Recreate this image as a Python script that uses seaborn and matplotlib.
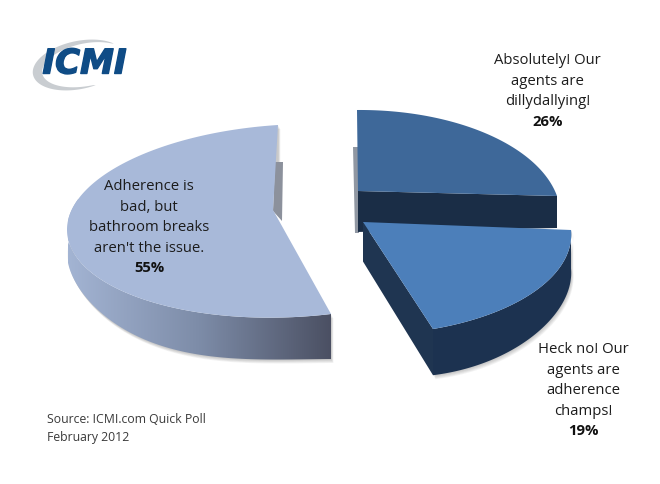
import numpy as np
import matplotlib
matplotlib.use("Agg")
import matplotlib.pyplot as plt
import matplotlib.patheffects as pe
import seaborn as sns
from matplotlib.patches import Polygon
from matplotlib.colors import LinearSegmentedColormap

# Poll results, clockwise from twelve o'clock
answers = ["Absolutely! Our\nagents are\ndillydallying!",
           "Heck no! Our\nagents are\nadherence\nchamps!",
           "Adherence is\nbad, but\nbathroom breaks\naren't the issue."]
shares = [26, 19, 55]
source_lines = ["Source: ICMI.com Quick Poll", "February 2012"]

top_colors = sns.color_palette(["#3e6899", "#4c7fba", "#a8b9d9"])

sns.set_theme(style="white")
plt.rcParams["font.family"] = ["Open Sans", "DejaVu Sans"]

fig = plt.figure(figsize=(6.6, 4.85), dpi=100)
ax = fig.add_axes([0, 0, 1, 1])
ax.set_xlim(0, 660)
ax.set_ylim(485, 0)
ax.axis("off")


def fit_plane(circle_pts, screen_pts):
    """Homography taking the unit-circle plane of the pie to the screen."""
    rows = []
    for (u, v), (x, y) in zip(circle_pts, screen_pts):
        rows.append([u, v, 1, 0, 0, 0, -u * x, -v * x, -x])
        rows.append([0, 0, 0, u, v, 1, -u * y, -v * y, -y])
    return np.linalg.svd(np.array(rows))[2][-1].reshape(3, 3)


def project(H, deg):
    t = np.radians(deg)
    p = H @ np.vstack([np.cos(t), np.sin(t), np.ones_like(t)])
    return p[:2] / p[2]


def unit(deg):
    return (np.cos(np.radians(deg)), np.sin(np.radians(deg)))


edges = 90 - np.cumsum([0] + shares) * 3.6
spans = list(zip(edges[:-1], edges[1:]))

# Each slice is pulled apart and seen under its own perspective
hubs = [(358, 192), (363, 223), (270, 225)]
tips = [(358, 192), (363, 223), (273, 211)]
start_pts = [(357, 111), (571, 231), (331, 315)]
end_pts = [(557, 197), (433, 330), (278, 126)]
mid_pts = [(480, 132), (538, 290), (69, 243.5)]
depth_x = [[357, 557], [363, 435, 540, 571], [68, 100, 160, 331]]
depth_y = [[41, 32], [40, 45, 45, 37], [24, 33, 41, 45]]

planes = []
for i, (a0, a1) in enumerate(spans):
    am = (a0 + a1) / 2
    planes.append(fit_plane([(0, 0), unit(a0), unit(a1), unit(am)],
                            [hubs[i], start_pts[i], end_pts[i], mid_pts[i]]))


def rim(i, n=160):
    return project(planes[i], np.linspace(spans[i][0], spans[i][1], n))


def drop(i, x):
    # smooth thickness of the slice across the screen
    degree = 1 if i == 0 else (2 if i == 1 else 3)
    return np.polyval(np.polyfit(depth_x[i], depth_y[i], degree), x)


def wall(xs, ys, i):
    return np.column_stack([np.r_[xs, xs[::-1]], np.r_[ys, (ys + drop(i, xs))[::-1]]])


def face(i, rx, ry):
    return np.column_stack([np.r_[tips[i][0], rx], np.r_[tips[i][1], ry]])


def soft_shadow(xy, layers=5, reach=4.0):
    for k in range(layers, 0, -1):
        off = reach * k / layers
        ax.add_patch(Polygon(xy + np.array([off * 0.6, off]), closed=True,
                             fc="#555555", ec="none", alpha=0.07, zorder=1))


# --- large light slice ---
rx, ry = rim(2)
soft_shadow(wall(rx, ry, 2))
# sliver of the inner wall showing beside the straight upper edge
ax.add_patch(Polygon([(275, 163), (283, 163), (282, 222), (273, 212)],
                     closed=True, fc="#8c919c", ec="none", zorder=2))
side = Polygon(wall(rx, ry, 2), closed=True, fc="none", ec="none", zorder=3)
ax.add_patch(side)
steel = LinearSegmentedColormap.from_list("steel", ["#a3b4d3", "#7d8ca8", "#4b5063"])
grad = ax.imshow(np.linspace(0, 1, 256)[None, :], cmap=steel, aspect="auto",
                 extent=(68, 331, 380, 200), zorder=3)
grad.set_clip_path(side)
ax.set_xlim(0, 660)
ax.set_ylim(485, 0)
ax.add_patch(Polygon(face(2, rx, ry), closed=True, fc=top_colors[2], ec="none", zorder=4))

# --- upper dark slice ---
rx, ry = rim(0)
ax.add_patch(Polygon([(353, 148), (358, 148), (359, 234), (355, 234)], closed=True,
                     fc="#6b7583", ec="none", alpha=0.75, zorder=2))
cut_x = np.array([tips[0][0], end_pts[0][0]], float)
cut_y = np.array([tips[0][1], end_pts[0][1]], float)
ax.add_patch(Polygon(wall(cut_x, cut_y, 0), closed=True, fc="#1a2d46", ec="none", zorder=5))
ax.add_patch(Polygon(face(0, rx, ry), closed=True, fc=top_colors[0], ec="none", zorder=6))

# --- lower dark slice ---
rx, ry = rim(1)
soft_shadow(wall(rx, ry, 1))
cut_x = np.array([tips[1][0], end_pts[1][0]], float)
cut_y = np.array([tips[1][1], end_pts[1][1]], float)
ax.add_patch(Polygon(wall(cut_x, cut_y, 1), closed=True, fc="#1f3551", ec="none", zorder=7))
ax.add_patch(Polygon(wall(rx, ry, 1), closed=True, fc="#1c3250", ec="none", zorder=7))
ax.add_patch(Polygon(face(1, rx, ry), closed=True, fc=top_colors[1], ec="none", zorder=8))

# --- slice captions ---
caption_xy = [(547.5, 53.5), (583, 342.5), (149, 179.5)]
line_h = 20.4
for text, share, (x, y) in zip(answers, shares, caption_xy):
    lines = text.split("\n")
    for j, line in enumerate(lines):
        ax.text(x, y + j * line_h, line, ha="center", va="top", fontsize=10.7,
                color="#1c1c1c", zorder=10)
    ax.text(x, y + len(lines) * line_h, f"{share}%", ha="center", va="top",
            fontsize=10.7, fontweight="bold", color="#111111", zorder=10)

# --- source note ---
for j, line in enumerate(source_lines):
    ax.text(47, 413 + j * 18, line, ha="left", va="top", fontsize=8.8,
            color="#3a3a3a", zorder=10)

# --- ICMI mark: grey swoosh behind the lettering ---
t = np.radians(np.linspace(35, 285, 80))
rot = np.radians(12)
ox, oy = 47 * np.cos(t), 24 * np.sin(t)
ix, iy = 41 * np.cos(t) + 3.5, 19.5 * np.sin(t) - 0.5
taper = np.sin(np.linspace(0, np.pi, t.size)) ** 0.5
ix = ox + (ix - ox) * taper
iy = oy + (iy - oy) * taper
swoosh = np.column_stack([np.r_[ox, ix[::-1]], np.r_[-oy, -iy[::-1]]])
c, s = np.cos(rot), np.sin(rot)
swoosh = swoosh @ np.array([[c, s], [-s, c]]).T + np.array([79, 66])
ax.add_patch(Polygon(swoosh, closed=True, fc="#c9cdd1", ec="none", zorder=2))
ax.text(84.5, 65, "ICMI", ha="center", va="center", fontsize=24.5, fontweight="bold",
        style="italic", family="DejaVu Sans", color="#0f4c86", zorder=3,
        path_effects=[pe.withStroke(linewidth=1.0, foreground="#0f4c86")])

fig.savefig("out.png", dpi=100, facecolor="white")
